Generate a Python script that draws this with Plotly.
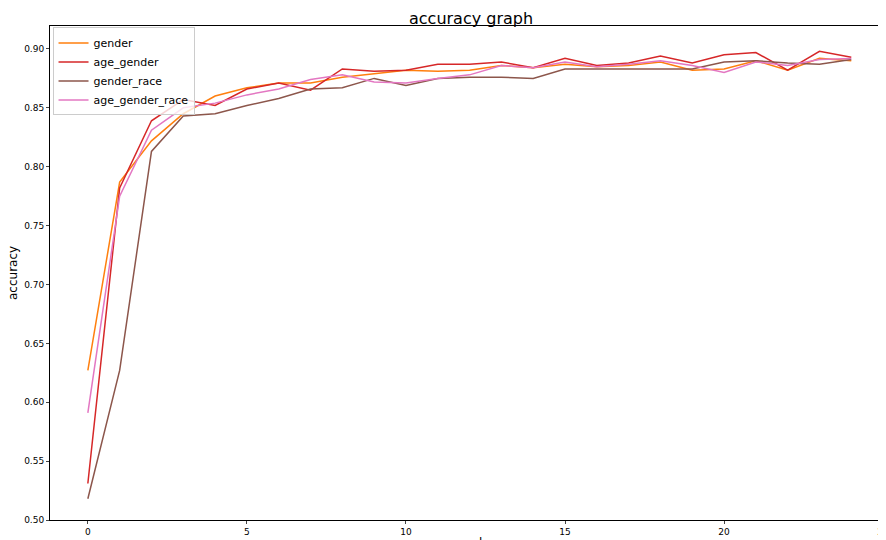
import plotly.graph_objects as go

epochs = list(range(25))
gender = [0.627, 0.787, 0.822, 0.845, 0.860, 0.867, 0.871, 0.871, 0.876, 0.879, 0.882, 0.881, 0.882, 0.886, 0.884,
          0.887, 0.885, 0.886, 0.889, 0.882, 0.883, 0.890, 0.882, 0.892, 0.890]
age_gender = [0.531, 0.782, 0.839, 0.857, 0.852, 0.866, 0.871, 0.865, 0.883, 0.881, 0.882, 0.887, 0.887, 0.889, 0.884,
              0.892, 0.886, 0.888, 0.894, 0.888, 0.895, 0.897, 0.882, 0.898, 0.893]
gender_race = [0.518, 0.627, 0.813, 0.843, 0.845, 0.852, 0.858, 0.866, 0.867, 0.875, 0.869, 0.875, 0.876, 0.876, 0.875,
               0.883, 0.883, 0.883, 0.883, 0.883, 0.889, 0.890, 0.888, 0.887, 0.891]
age_gender_race = [0.591, 0.775, 0.831, 0.850, 0.854, 0.861, 0.866, 0.874, 0.878, 0.872, 0.871, 0.875, 0.878, 0.886, 0.884,
                   0.889, 0.885, 0.887, 0.890, 0.886, 0.880, 0.889, 0.886, 0.891, 0.892]

series = [("gender", gender, "#ff7f0e"), ("age_gender", age_gender, "#d62728"),
          ("gender_race", gender_race, "#8c564b"), ("age_gender_race", age_gender_race, "#e377c2")]

fig = go.Figure()
for name, vals, color in series:
    fig.add_trace(go.Scatter(x=epochs, y=vals, mode="lines", name=name, line=dict(color=color, width=1.5)))

axis = dict(showline=True, linecolor="black", mirror=True, ticks="outside", ticklen=3, showgrid=False,
            zeroline=False, tickfont=dict(size=9, color="black"))
fig.update_layout(
    width=886, height=540, paper_bgcolor="white", plot_bgcolor="white",
    font=dict(family="DejaVu Sans", color="black"),
    margin=dict(l=42, r=2, t=18, b=28),
    legend=dict(x=0.003, y=0.997, xanchor="left", yanchor="top", bordercolor="#cccccc", borderwidth=1,
                font=dict(size=11), bgcolor="rgba(255,255,255,0.8)", tracegroupgap=0),
    xaxis=dict(axis, range=[-1.19, 25.28], tickvals=[0, 5, 10, 15, 20, 25]),
    yaxis=dict(axis, range=[0.5, 0.9195], tickvals=[0.5, 0.55, 0.6, 0.65, 0.7, 0.75, 0.8, 0.85, 0.9],
               tickformat=".2f"),
    annotations=[
        dict(text="accuracy graph", x=0.5, y=1, xref="paper", yref="paper", xanchor="center", yanchor="bottom",
             yshift=-4, showarrow=False, font=dict(size=16)),
        dict(text="epochs", x=0.5, y=0, xref="paper", yref="paper", xanchor="center", yanchor="top",
             yshift=-14, showarrow=False, font=dict(size=12)),
        dict(text="accuracy", x=0, y=0.5, xref="paper", yref="paper", xanchor="right", yanchor="middle",
             xshift=-28, textangle=-90, showarrow=False, font=dict(size=12)),
    ],
)
fig.write_html("out.html")
